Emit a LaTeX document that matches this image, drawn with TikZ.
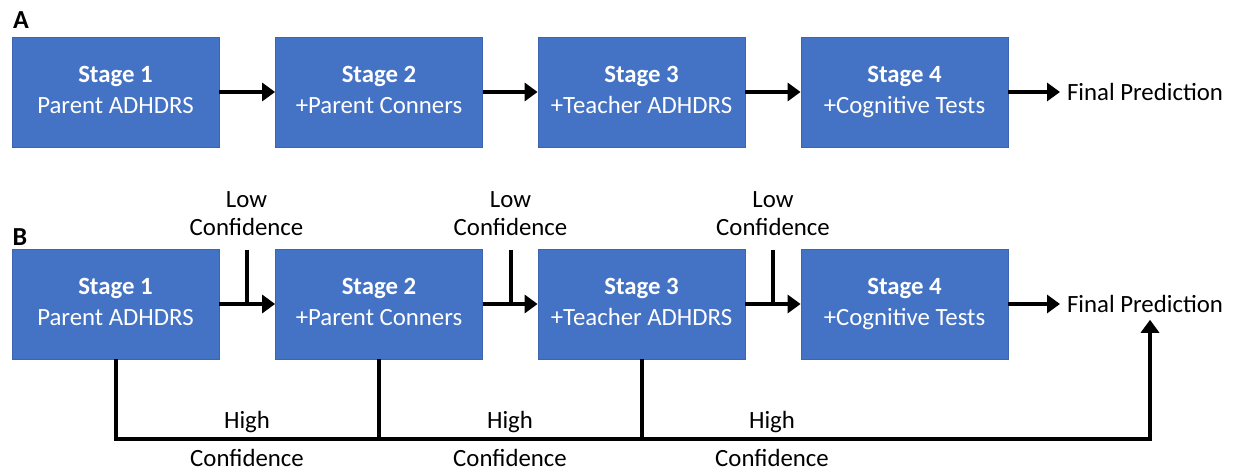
\documentclass[tikz,border=0pt]{standalone}
\usepackage{fontspec}
\setmainfont{Carlito}
\usetikzlibrary{arrows.meta,positioning}
\definecolor{stageblue}{HTML}{4472C4}
\definecolor{stageedge}{HTML}{3B65B3}
\newcommand{\stagetext}[2]{\textbf{Stage #1}\strut\\#2\strut}
\tikzset{
  stagebox/.style={rectangle,fill=stageblue,draw=stageedge,line width=0.4pt,
    minimum width=103.5pt,minimum height=55pt,text=white,align=center,
    font=\fontsize{12.4}{15.2}\selectfont},
  plain/.style={font=\fontsize{12.4}{14}\selectfont,align=center},
  panel/.style={font=\fontsize{13}{14}\selectfont\bfseries},
  flow/.style={line width=2pt,-{Triangle[length=6.5pt,width=9pt]}},
  branchline/.style={line width=2pt}
}
\begin{document}
\begin{tikzpicture}[x=0.5pt,y=-0.5pt]
\useasboundingbox (0,0) rectangle (1237,470);
% panel A
\node[panel] (la) at (21,20) {A};
\node[stagebox] (a1) at (115.5,92) {\stagetext{1}{Parent ADHDRS}};
\node[stagebox] (a2) at (379,92) {\stagetext{2}{+Parent Conners}};
\node[stagebox] (a3) at (641.5,92) {\stagetext{3}{+Teacher ADHDRS}};
\node[stagebox] (a4) at (904.5,92) {\stagetext{4}{+Cognitive Tests}};
\node[plain,anchor=west] (fpa) at (1060,92) {Final Prediction};
\draw[flow] (a1) -- (a2);
\draw[flow] (a2) -- (a3);
\draw[flow] (a3) -- (a4);
\draw[flow] (a4) -- (fpa);
% panel B
\node[panel] (lb) at (20,237) {B};
\node[stagebox] (b1) at (115.5,304) {\stagetext{1}{Parent ADHDRS}};
\node[stagebox] (b2) at (379,304) {\stagetext{2}{+Parent Conners}};
\node[stagebox] (b3) at (641.5,304) {\stagetext{3}{+Teacher ADHDRS}};
\node[stagebox] (b4) at (904.5,304) {\stagetext{4}{+Cognitive Tests}};
\node[plain,anchor=west] (fpb) at (1060,304) {Final Prediction};
\draw[flow] (b1) -- (b2);
\draw[flow] (b2) -- (b3);
\draw[flow] (b3) -- (b4);
\draw[flow] (b4) -- (fpb);
% low confidence
\foreach \n/\x in {1/246.5,2/510.5,3/773} {
  \node[plain] (low\n) at (\x,214) {Low\\Confidence};
  \coordinate (lowtop\n) at (\x,250);
  \draw[branchline] (lowtop\n) -- (lowtop\n |- b1.east);
}
% high confidence
\foreach \n/\x in {1/247,2/510,3/772} {
  \node[plain] (high\n) at (\x,439) {High\\[5pt]Confidence};
}
\coordinate (hub) at ([xshift=2.5pt]fpb.south |- 0,439);
\draw[branchline] (b2.south) -- (b2.south |- hub);
\draw[branchline] (b3.south) -- (b3.south |- hub);
\draw[flow] (b1.south) |- (hub) -- (hub |- fpb.south);
\end{tikzpicture}
\end{document}
